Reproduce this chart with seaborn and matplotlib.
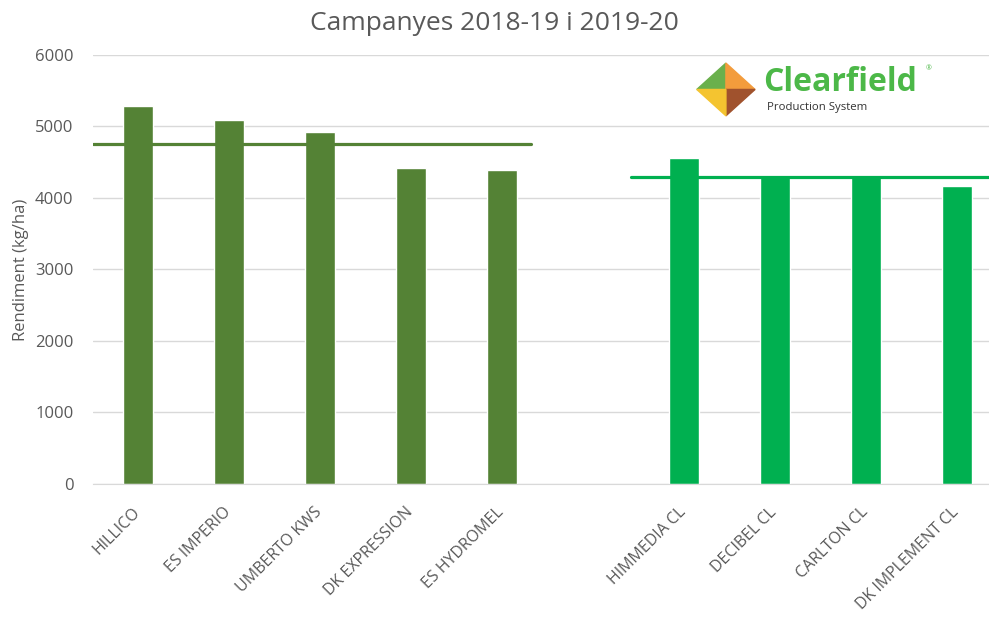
import pandas as pd
import matplotlib.pyplot as plt
import matplotlib.patches as mpatches
import matplotlib.transforms as mtransforms
import seaborn as sns

# Values
CONVENTIONAL = ['HILLICO', 'ES IMPERIO', 'UMBERTO KWS', 'DK EXPRESSION', 'ES HYDROMEL']
CONV_YIELD = [5290, 5090, 4920, 4415, 4385]
CONV_MEAN = 4760

CLEARFIELD = ['HIMMEDIA CL', 'DECIBEL CL', 'CARLTON CL', 'DK IMPLEMENT CL']
CL_YIELD = [4560, 4295, 4295, 4170]
CL_MEAN = 4295

DARK_GREEN = '#548235'
BRIGHT_GREEN = '#00B050'
TEXT_GRAY = '#595959'

GAP = ' '  # empty slot between the two groups
ORDER = CONVENTIONAL + [GAP] + CLEARFIELD


def build_frame():
    rows = [(v, y, 'conv') for v, y in zip(CONVENTIONAL, CONV_YIELD)]
    rows += [(v, y, 'cl') for v, y in zip(CLEARFIELD, CL_YIELD)]
    return pd.DataFrame(rows, columns=['variety', 'rendiment', 'group'])


def draw_logo(fig):
    # white box hiding the grid behind the logo
    box = fig.add_axes([0.69, 0.815, 0.265, 0.085])
    box.set_axis_off()
    box.add_patch(mpatches.Rectangle((0, 0), 1, 1, color='white', transform=box.transAxes))

    icon = fig.add_axes([0.703, 0.81, 0.062, 0.09])
    icon.set_xlim(-1, 1)
    icon.set_ylim(-1, 1)
    icon.set_axis_off()
    quads = [
        ([(0, 0), (-0.95, 0), (0, 0.95)], '#6ab04c'),
        ([(0, 0), (0, 0.95), (0.95, 0)], '#f39c3c'),
        ([(0, 0), (0.95, 0), (0, -0.95)], '#a0522d'),
        ([(0, 0), (0, -0.95), (-0.95, 0)], '#f4c430'),
    ]
    for pts, col in quads:
        icon.add_patch(mpatches.Polygon(pts, closed=True, color=col))

    fig.text(0.772, 0.866, 'Clearfield', fontsize=23, fontweight='bold',
             color='#4cb848', va='center', ha='left')
    fig.text(0.936, 0.888, '®', fontsize=5, color='#4cb848', va='center')
    fig.text(0.776, 0.826, 'Production System', fontsize=8.2, color='#333333',
             va='center', ha='left')


def make_chart():
    df = build_frame()

    sns.set_style('white')
    plt.rcParams['font.family'] = ['Open Sans', 'DejaVu Sans']

    fig = plt.figure(figsize=(9.89, 6.17), dpi=100)
    ax = fig.add_axes([0.094, 0.2156, 0.906, 0.6953])

    sns.barplot(
        data=df, x='variety', y='rendiment', hue='group', order=ORDER,
        palette={'conv': DARK_GREEN, 'cl': BRIGHT_GREEN},
        dodge=False, width=0.33, saturation=1, legend=False, ax=ax,
    )

    # mean lines for each group
    ax.plot([-0.5, 4.31], [CONV_MEAN, CONV_MEAN], color=DARK_GREEN, lw=2.3, zorder=3)
    ax.plot([5.41, 9.5], [CL_MEAN, CL_MEAN], color=BRIGHT_GREEN, lw=2.3, zorder=3)

    ax.set_ylim(0, 6000)
    ax.set_xlim(-0.5, 9.35)
    ax.set_yticks(range(0, 6001, 1000))
    ax.yaxis.grid(True, color='#d9d9d9', lw=1)
    ax.set_axisbelow(True)
    for side in ['top', 'right', 'left']:
        ax.spines[side].set_visible(False)
    ax.spines['bottom'].set_color('#d9d9d9')

    ax.tick_params(axis='both', length=0, colors=TEXT_GRAY, labelsize=12)
    ax.tick_params(axis='x', pad=0)
    ax.tick_params(axis='y', pad=14)
    ax.set_xticks(range(len(ORDER)))
    ax.set_xticklabels(ORDER, rotation=45, ha='right', va='center',
                       rotation_mode='anchor', fontsize=11.5, color=TEXT_GRAY)
    shift = mtransforms.ScaledTranslation(-0.01, -0.26, fig.dpi_scale_trans)
    for lab in ax.get_xticklabels():
        lab.set_transform(lab.get_transform() + shift)
    ax.set_xlabel('')
    ax.set_ylabel('Rendiment (kg/ha)', fontsize=12, color=TEXT_GRAY, labelpad=4)

    fig.text(0.5, 0.962, 'Campanyes 2018-19 i 2019-20', fontsize=19,
             color=TEXT_GRAY, ha='center', va='center')

    draw_logo(fig)

    fig.savefig('out.png', dpi=100)


if __name__ == '__main__':
    make_chart()
